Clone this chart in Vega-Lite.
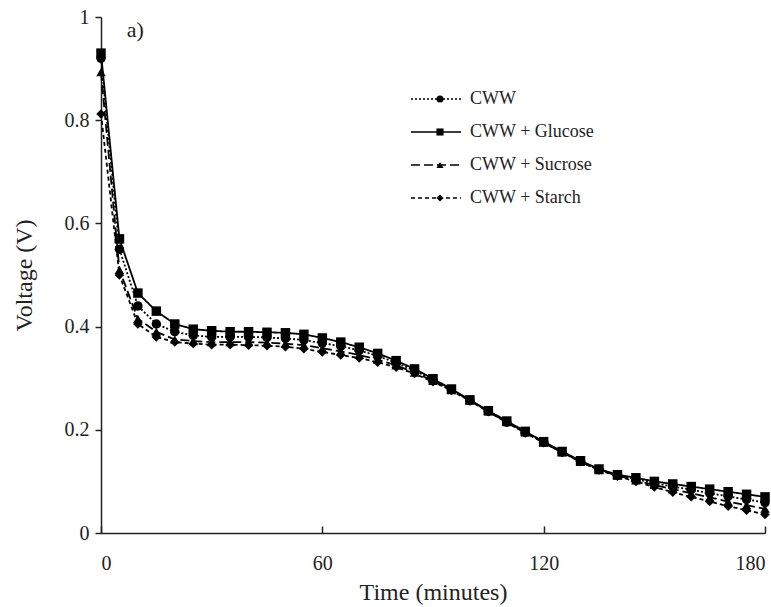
{
  "$schema": "https://vega.github.io/schema/vega-lite/v6.json",
  "width": 664,
  "height": 516,
  "autosize": {"type": "none"},
  "padding": {"left": 101, "top": 17, "right": 6, "bottom": 74},
  "background": "white",
  "config": {
    "view": {"stroke": null},
    "font": "Liberation Serif",
    "axis": {"grid": false, "domainColor": "#222", "tickColor": "#222", "labelColor": "#222", "titleColor": "#222", "labelFont": "Liberation Serif", "titleFont": "Liberation Serif", "labelFontSize": 20, "titleFontSize": 24, "titleFontWeight": "normal", "domainWidth": 1.5, "tickWidth": 1.5}
  },
  "data": {"values": [
    {"t":0,"s":"CWW","v":0.92},{"t":0,"s":"CWW + Glucose","v":0.93},{"t":0,"s":"CWW + Sucrose","v":0.893},{"t":0,"s":"CWW + Starch","v":0.812},
    {"t":5,"s":"CWW","v":0.55},{"t":5,"s":"CWW + Glucose","v":0.57},{"t":5,"s":"CWW + Sucrose","v":0.51},{"t":5,"s":"CWW + Starch","v":0.5},
    {"t":10,"s":"CWW","v":0.44},{"t":10,"s":"CWW + Glucose","v":0.465},{"t":10,"s":"CWW + Sucrose","v":0.415},{"t":10,"s":"CWW + Starch","v":0.405},
    {"t":15,"s":"CWW","v":0.405},{"t":15,"s":"CWW + Glucose","v":0.43},{"t":15,"s":"CWW + Sucrose","v":0.39},{"t":15,"s":"CWW + Starch","v":0.38},
    {"t":20,"s":"CWW","v":0.39},{"t":20,"s":"CWW + Glucose","v":0.405},{"t":20,"s":"CWW + Sucrose","v":0.375},{"t":20,"s":"CWW + Starch","v":0.37},
    {"t":25,"s":"CWW","v":0.383},{"t":25,"s":"CWW + Glucose","v":0.395},{"t":25,"s":"CWW + Sucrose","v":0.372},{"t":25,"s":"CWW + Starch","v":0.367},
    {"t":30,"s":"CWW","v":0.38},{"t":30,"s":"CWW + Glucose","v":0.392},{"t":30,"s":"CWW + Sucrose","v":0.37},{"t":30,"s":"CWW + Starch","v":0.365},
    {"t":35,"s":"CWW","v":0.38},{"t":35,"s":"CWW + Glucose","v":0.39},{"t":35,"s":"CWW + Sucrose","v":0.37},{"t":35,"s":"CWW + Starch","v":0.365},
    {"t":40,"s":"CWW","v":0.38},{"t":40,"s":"CWW + Glucose","v":0.39},{"t":40,"s":"CWW + Sucrose","v":0.37},{"t":40,"s":"CWW + Starch","v":0.364},
    {"t":45,"s":"CWW","v":0.379},{"t":45,"s":"CWW + Glucose","v":0.389},{"t":45,"s":"CWW + Sucrose","v":0.369},{"t":45,"s":"CWW + Starch","v":0.363},
    {"t":50,"s":"CWW","v":0.377},{"t":50,"s":"CWW + Glucose","v":0.388},{"t":50,"s":"CWW + Sucrose","v":0.367},{"t":50,"s":"CWW + Starch","v":0.361},
    {"t":55,"s":"CWW","v":0.374},{"t":55,"s":"CWW + Glucose","v":0.385},{"t":55,"s":"CWW + Sucrose","v":0.364},{"t":55,"s":"CWW + Starch","v":0.357},
    {"t":60,"s":"CWW","v":0.368},{"t":60,"s":"CWW + Glucose","v":0.378},{"t":60,"s":"CWW + Sucrose","v":0.358},{"t":60,"s":"CWW + Starch","v":0.351},
    {"t":65,"s":"CWW","v":0.362},{"t":65,"s":"CWW + Glucose","v":0.37},{"t":65,"s":"CWW + Sucrose","v":0.352},{"t":65,"s":"CWW + Starch","v":0.345},
    {"t":70,"s":"CWW","v":0.354},{"t":70,"s":"CWW + Glucose","v":0.36},{"t":70,"s":"CWW + Sucrose","v":0.345},{"t":70,"s":"CWW + Starch","v":0.339},
    {"t":75,"s":"CWW","v":0.343},{"t":75,"s":"CWW + Glucose","v":0.348},{"t":75,"s":"CWW + Sucrose","v":0.336},{"t":75,"s":"CWW + Starch","v":0.331},
    {"t":80,"s":"CWW","v":0.33},{"t":80,"s":"CWW + Glucose","v":0.334},{"t":80,"s":"CWW + Sucrose","v":0.325},{"t":80,"s":"CWW + Starch","v":0.321},
    {"t":85,"s":"CWW","v":0.315},{"t":85,"s":"CWW + Glucose","v":0.318},{"t":85,"s":"CWW + Sucrose","v":0.311},{"t":85,"s":"CWW + Starch","v":0.309},
    {"t":90,"s":"CWW","v":0.297},{"t":90,"s":"CWW + Glucose","v":0.299},{"t":90,"s":"CWW + Sucrose","v":0.295},{"t":90,"s":"CWW + Starch","v":0.293},
    {"t":95,"s":"CWW","v":0.278},{"t":95,"s":"CWW + Glucose","v":0.279},{"t":95,"s":"CWW + Sucrose","v":0.277},{"t":95,"s":"CWW + Starch","v":0.276},
    {"t":100,"s":"CWW","v":0.257},{"t":100,"s":"CWW + Glucose","v":0.258},{"t":100,"s":"CWW + Sucrose","v":0.257},{"t":100,"s":"CWW + Starch","v":0.256},
    {"t":105,"s":"CWW","v":0.236},{"t":105,"s":"CWW + Glucose","v":0.237},{"t":105,"s":"CWW + Sucrose","v":0.236},{"t":105,"s":"CWW + Starch","v":0.235},
    {"t":110,"s":"CWW","v":0.215},{"t":110,"s":"CWW + Glucose","v":0.217},{"t":110,"s":"CWW + Sucrose","v":0.215},{"t":110,"s":"CWW + Starch","v":0.214},
    {"t":115,"s":"CWW","v":0.195},{"t":115,"s":"CWW + Glucose","v":0.197},{"t":115,"s":"CWW + Sucrose","v":0.195},{"t":115,"s":"CWW + Starch","v":0.194},
    {"t":120,"s":"CWW","v":0.176},{"t":120,"s":"CWW + Glucose","v":0.177},{"t":120,"s":"CWW + Sucrose","v":0.175},{"t":120,"s":"CWW + Starch","v":0.175},
    {"t":125,"s":"CWW","v":0.157},{"t":125,"s":"CWW + Glucose","v":0.158},{"t":125,"s":"CWW + Sucrose","v":0.156},{"t":125,"s":"CWW + Starch","v":0.156},
    {"t":130,"s":"CWW","v":0.139},{"t":130,"s":"CWW + Glucose","v":0.14},{"t":130,"s":"CWW + Sucrose","v":0.138},{"t":130,"s":"CWW + Starch","v":0.138},
    {"t":135,"s":"CWW","v":0.123},{"t":135,"s":"CWW + Glucose","v":0.124},{"t":135,"s":"CWW + Sucrose","v":0.122},{"t":135,"s":"CWW + Starch","v":0.122},
    {"t":140,"s":"CWW","v":0.112},{"t":140,"s":"CWW + Glucose","v":0.113},{"t":140,"s":"CWW + Sucrose","v":0.111},{"t":140,"s":"CWW + Starch","v":0.11},
    {"t":145,"s":"CWW","v":0.104},{"t":145,"s":"CWW + Glucose","v":0.107},{"t":145,"s":"CWW + Sucrose","v":0.102},{"t":145,"s":"CWW + Starch","v":0.1},
    {"t":150,"s":"CWW","v":0.097},{"t":150,"s":"CWW + Glucose","v":0.1},{"t":150,"s":"CWW + Sucrose","v":0.093},{"t":150,"s":"CWW + Starch","v":0.089},
    {"t":155,"s":"CWW","v":0.09},{"t":155,"s":"CWW + Glucose","v":0.095},{"t":155,"s":"CWW + Sucrose","v":0.085},{"t":155,"s":"CWW + Starch","v":0.079},
    {"t":160,"s":"CWW","v":0.084},{"t":160,"s":"CWW + Glucose","v":0.09},{"t":160,"s":"CWW + Sucrose","v":0.077},{"t":160,"s":"CWW + Starch","v":0.07},
    {"t":165,"s":"CWW","v":0.077},{"t":165,"s":"CWW + Glucose","v":0.085},{"t":165,"s":"CWW + Sucrose","v":0.069},{"t":165,"s":"CWW + Starch","v":0.061},
    {"t":170,"s":"CWW","v":0.071},{"t":170,"s":"CWW + Glucose","v":0.08},{"t":170,"s":"CWW + Sucrose","v":0.061},{"t":170,"s":"CWW + Starch","v":0.052},
    {"t":175,"s":"CWW","v":0.065},{"t":175,"s":"CWW + Glucose","v":0.075},{"t":175,"s":"CWW + Sucrose","v":0.054},{"t":175,"s":"CWW + Starch","v":0.044},
    {"t":180,"s":"CWW","v":0.059},{"t":180,"s":"CWW + Glucose","v":0.07},{"t":180,"s":"CWW + Sucrose","v":0.047},{"t":180,"s":"CWW + Starch","v":0.036}
  ]},
  "layer": [
    {
      "mark": {"type": "line", "color": "black", "strokeWidth": 1.8},
      "encoding": {
        "x": {"field": "t", "type": "quantitative", "scale": {"domain": [0, 180], "nice": false, "zero": false},
          "axis": {"values": [0, 60, 120, 180], "title": "Time (minutes)", "tickSize": -7, "labelPadding": 27, "titlePadding": 7}},
        "y": {"field": "v", "type": "quantitative", "scale": {"domain": [0, 1], "nice": false},
          "axis": {"values": [0, 0.2, 0.4, 0.6, 0.8, 1], "format": "~g", "title": "Voltage (V)", "tickSize": 6, "labelPadding": 6, "titlePadding": 28}},
        "strokeDash": {"field": "s", "type": "nominal",
          "scale": {"domain": ["CWW", "CWW + Glucose", "CWW + Sucrose", "CWW + Starch"], "range": [[2, 2], [1, 0], [9, 4], [4, 3]]},
          "legend": {"title": null, "orient": "none", "legendX": 309, "legendY": 72, "padding": 0, "symbolType": "stroke", "symbolSize": 2500, "symbolStrokeWidth": 1.6, "symbolStrokeColor": "black", "labelFont": "Liberation Serif", "labelFontSize": 18, "labelColor": "#222", "labelOffset": 8, "rowPadding": 13, "clipHeight": 20}
        }
      }
    },
    {
      "mark": {"type": "point", "filled": true, "color": "black", "opacity": 1, "size": 90},
      "encoding": {
        "x": {"field": "t", "type": "quantitative"},
        "y": {"field": "v", "type": "quantitative"},
        "shape": {"field": "s", "type": "nominal",
          "sort": ["CWW", "CWW + Glucose", "CWW + Sucrose", "CWW + Starch"],
          "scale": {"range": ["circle", "square", "triangle-up", "diamond"]},
          "legend": {"title": null, "orient": "none", "legendX": 330, "legendY": 72, "padding": 0, "symbolSize": 50, "symbolFillColor": "black", "symbolStrokeColor": "black", "labelFont": "Liberation Serif", "labelFontSize": 18, "labelExpr": "''", "rowPadding": 13, "clipHeight": 20}
        }
      }
    },
    {
      "data": {"values": [{"lbl": "a)"}]},
      "mark": {"type": "text", "font": "Liberation Serif", "fontSize": 22, "color": "#222", "align": "left", "baseline": "middle"},
      "encoding": {"text": {"field": "lbl"}, "x": {"datum": 7}, "y": {"datum": 0.975}}
    }
  ]
}
